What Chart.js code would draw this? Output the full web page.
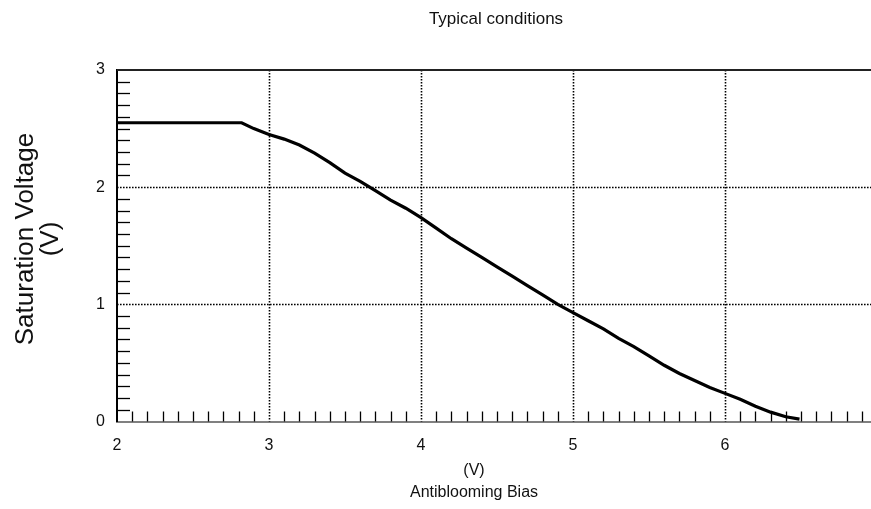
<!DOCTYPE html>
<html>
<head>
<meta charset="utf-8">
<script src="https://cdn.jsdelivr.net/npm/chart.js@4.4.1/dist/chart.umd.min.js"></script>
<style>
  html, body { margin: 0; padding: 0; background: #fff; overflow: hidden; }
  #wrap { width: 900px; height: 509px; position: relative; }
</style>
</head>
<body>
<div id="wrap"><canvas id="satChart"></canvas></div>
<script>
// antibloom bias (V) vs saturation voltage (V)
const biasV = [2.0, 2.82, 2.9, 3.0, 3.1, 3.2, 3.3, 3.4, 3.5, 3.6, 3.7, 3.8, 3.9, 4.0, 4.1, 4.2, 4.3, 4.4, 4.5, 4.6, 4.7, 4.8, 4.9, 5.0, 5.1, 5.2, 5.3, 5.4, 5.5, 5.6, 5.7, 5.8, 5.9, 6.0, 6.1, 6.2, 6.3, 6.4, 6.49];
const satV  = [2.55, 2.55, 2.50, 2.45, 2.41, 2.36, 2.29, 2.21, 2.12, 2.05, 1.97, 1.89, 1.82, 1.74, 1.65, 1.56, 1.48, 1.40, 1.32, 1.24, 1.16, 1.08, 1.00, 0.93, 0.86, 0.79, 0.71, 0.64, 0.56, 0.48, 0.41, 0.35, 0.29, 0.24, 0.19, 0.13, 0.08, 0.04, 0.02];

const xTicks = [2, 3, 4, 5, 6, 7];
const yTicks = [0, 1, 2, 3];
const xGrid = [3, 4, 5, 6];
const yGrid = [1, 2];

const titleText = 'Typical conditions';
const xTitle = ['(V)', 'Antiblooming Bias'];
const yTitle = ['Saturation Voltage', '(V)'];

const FONT = 'Arial, "Liberation Sans", sans-serif';

// dotted grid, inward minor ticks and top frame line
const framePlugin = {
  id: 'frame',
  beforeDatasetsDraw(chart) {
    const { ctx, chartArea: a, scales: { x, y } } = chart;
    ctx.save();

    ctx.strokeStyle = '#000';
    ctx.lineWidth = 1.6;
    ctx.setLineDash([1.6, 1.4]);
    xGrid.forEach(v => {
      const px = Math.round(x.getPixelForValue(v)) + 0.5;
      ctx.beginPath(); ctx.moveTo(px, a.top); ctx.lineTo(px, a.bottom); ctx.stroke();
    });
    yGrid.forEach(v => {
      const py = Math.round(y.getPixelForValue(v)) + 0.5;
      ctx.beginPath(); ctx.moveTo(a.left, py); ctx.lineTo(a.right, py); ctx.stroke();
    });
    ctx.setLineDash([]);

    // minor ticks every 0.1
    ctx.lineWidth = 1.3;
    ctx.strokeStyle = '#000';
    for (let i = 21; i < 70; i++) {
      if (i % 10 === 0) continue;
      const px = Math.round(x.getPixelForValue(i / 10)) + 0.5;
      ctx.beginPath(); ctx.moveTo(px, a.bottom); ctx.lineTo(px, a.bottom - 10); ctx.stroke();
    }
    for (let i = 1; i < 30; i++) {
      if (i % 10 === 0) continue;
      const py = Math.round(y.getPixelForValue(i / 10)) + 0.5;
      ctx.beginPath(); ctx.moveTo(a.left, py); ctx.lineTo(a.left + 13, py); ctx.stroke();
    }

    // top line
    ctx.strokeStyle = '#222';
    ctx.lineWidth = 2;
    ctx.beginPath(); ctx.moveTo(a.left, a.top); ctx.lineTo(a.right, a.top); ctx.stroke();
    ctx.restore();
  },
  afterDraw(chart) {
    const { ctx } = chart;
    ctx.save();
    ctx.fillStyle = '#111';
    ctx.textAlign = 'center';
    ctx.textBaseline = 'alphabetic';

    ctx.font = '17px ' + FONT;
    ctx.fillText(titleText, 496, 24);

    ctx.font = '16px ' + FONT;
    ctx.fillText(xTitle[0], 474, 475);
    ctx.fillText(xTitle[1], 474, 497);

    ctx.translate(0, 239);
    ctx.rotate(-Math.PI / 2);
    ctx.font = '26px ' + FONT;
    ctx.textBaseline = 'middle';
    ctx.fillText(yTitle[0], 0, 26);
    ctx.fillText(yTitle[1], 0, 51);
    ctx.restore();
  }
};

new Chart(document.getElementById('satChart'), {
  type: 'line',
  data: {
    datasets: [{
      data: biasV.map((v, i) => ({ x: v, y: satV[i] })),
      borderColor: '#000',
      borderWidth: 3.2,
      pointRadius: 0,
      tension: 0,
      fill: false
    }]
  },
  options: {
    responsive: true,
    maintainAspectRatio: false,
    animation: false,
    layout: { padding: { top: 70, right: 23, left: 0, bottom: 0 } },
    plugins: { legend: { display: false }, title: { display: false }, tooltip: { enabled: false } },
    scales: {
      x: {
        type: 'linear', min: 2, max: 7,
        afterBuildTicks: s => { s.ticks = xTicks.map(v => ({ value: v })); },
        afterFit: s => { s.height = 87.5; },
        grid: { drawOnChartArea: false, drawTicks: false },
        border: { display: true, color: '#808080', width: 2 },
        ticks: { color: '#111', padding: 14, font: { family: FONT, size: 16 } }
      },
      y: {
        type: 'linear', min: 0, max: 3,
        afterBuildTicks: s => { s.ticks = yTicks.map(v => ({ value: v })); },
        afterFit: s => { s.width = 117; },
        grid: { drawOnChartArea: false, drawTicks: false },
        border: { display: true, color: '#000', width: 2 },
        ticks: { color: '#111', padding: 12, font: { family: FONT, size: 16 } }
      }
    }
  },
  plugins: [framePlugin]
});
</script>
</body>
</html>
